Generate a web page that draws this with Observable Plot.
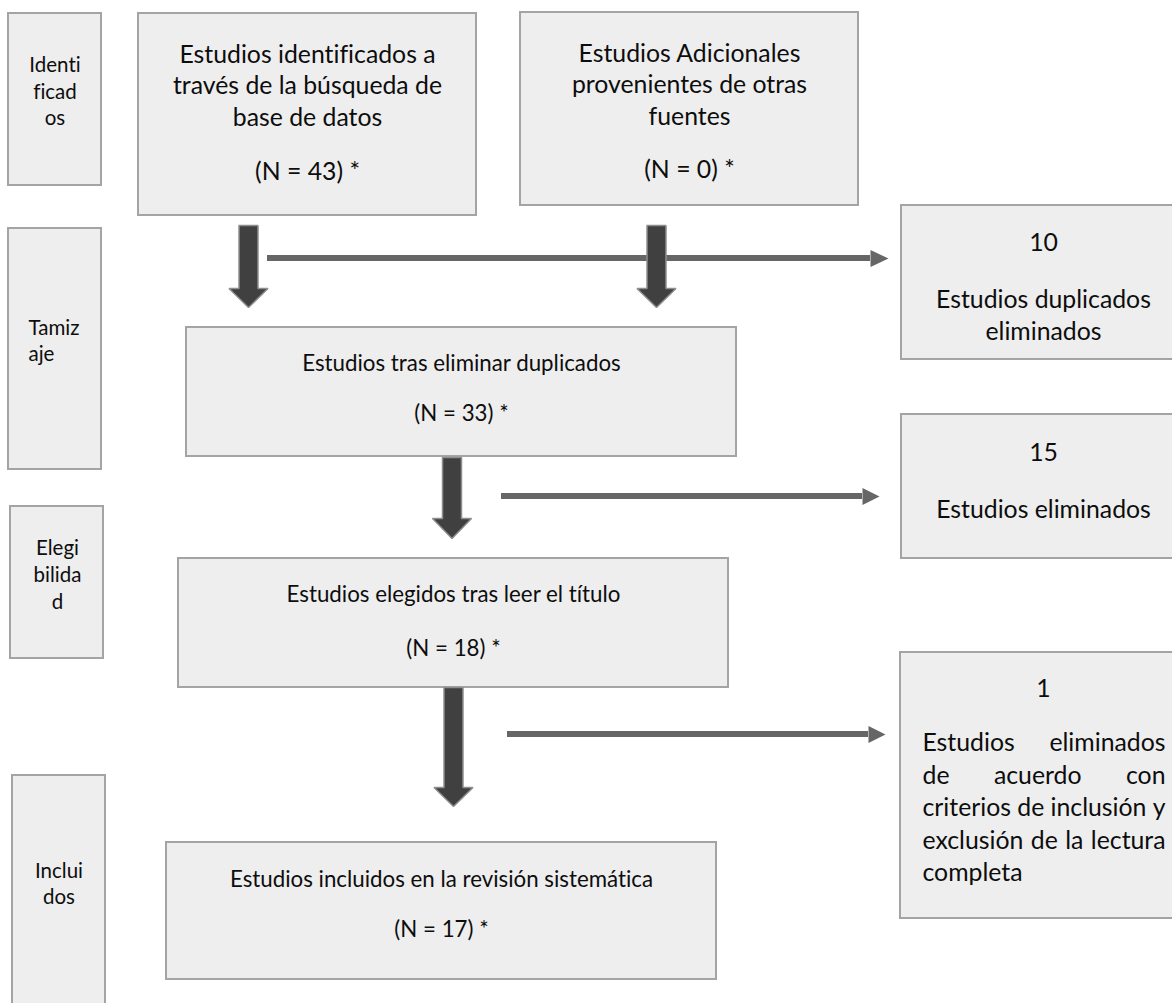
<!DOCTYPE html>
<html><head><meta charset="utf-8">
<script src="https://cdn.jsdelivr.net/npm/d3@7"></script>
<script src="https://cdn.jsdelivr.net/npm/@observablehq/plot@0.6"></script>
<style>html,body{margin:0;padding:0;background:#fff;overflow:hidden} svg text{font-variant-ligatures:none;font-feature-settings:"liga" 0}</style>
</head><body><div id="chart"></div>
<script>
// ---------- DATA ----------
const stageLabels = ["Identi\nficad\nos", "Tamiz\naje", "Elegi\nbilida\nd", "Inclui\ndos"];
const flowTitles = [
  "Estudios identificados a\ntravés de la búsqueda de\nbase de datos",
  "Estudios Adicionales\nprovenientes de otras\nfuentes",
  "Estudios tras eliminar duplicados",
  "Estudios elegidos tras leer el título",
  "Estudios incluidos en la revisión sistemática"
];
const flowCounts = [43, 0, 33, 18, 17];
const excludedCounts = [10, 15, 1];
const excludedLabels = [
  "Estudios duplicados\neliminados",
  "Estudios eliminados",
  "Estudios eliminados\nde acuerdo con\ncriterios de inclusión y\nexclusión de la lectura\ncompleta"
];

// ---------- LAYOUT (pixel space) ----------
const W = 1172, H = 1003;
const stageBoxes = [
  {x1: 8, x2: 101, y1: 13, y2: 185, tx: 54.5, ty: 89.5, anchor: "middle"},
  {x1: 8, x2: 101, y1: 228, y2: 469, tx: 28, ty: 339, anchor: "start"},
  {x1: 10, x2: 103, y1: 506, y2: 658, tx: 57, ty: 573, anchor: "middle"},
  {x1: 12, x2: 105, y1: 775, y2: 1030, tx: 58.5, ty: 882, anchor: "middle"}
];
const flowBoxes = [
  {x1: 138, x2: 476, y1: 13, y2: 215, tx: 307, ty: 83.5, cy: 172},
  {x1: 520, x2: 858, y1: 12, y2: 205, tx: 689, ty: 82.5, cy: 170},
  {x1: 186, x2: 736, y1: 327, y2: 456, tx: 461, ty: 363, cy: 413},
  {x1: 178, x2: 728, y1: 558, y2: 687, tx: 453, ty: 594, cy: 648},
  {x1: 166, x2: 716, y1: 842, y2: 979, tx: 441, ty: 879, cy: 929}
];
const excludedBoxes = [
  {x1: 901, x2: 1200, y1: 205, y2: 359, tx: 1043, cy: 243, ty: 313},
  {x1: 901, x2: 1200, y1: 414, y2: 558, tx: 1043, cy: 453, ty: 507},
  {x1: 900, x2: 1200, y1: 652, y2: 918, tx: 1043, cy: 689, left: 922, right: 1165, top: 743, step: 32.5}
];
const fatArrows = [
  {cx: 248, top: 225, head: 288, tip: 307},
  {cx: 656, top: 225, head: 288, tip: 307},
  {cx: 451.5, top: 457, head: 518, tip: 538},
  {cx: 453, top: 687, head: 787, tip: 806}
];
const thinArrows = [
  {x1: 267, x2: 870, tip: 888, y: 258},
  {x1: 501, x2: 862, tip: 879, y: 496},
  {x1: 507, x2: 868, tip: 885, y: 734}
];

const mainSize = 24.8, midSize = 22.3, sideSize = 20.5;
const fontFamily = "Lato, 'Noto Sans', sans-serif";

// ---------- derived tables ----------
const boxes = [...stageBoxes, ...flowBoxes, ...excludedBoxes];
const shaftHalf = 9.5, headHalf = 19.5;
const fatPts = fatArrows.flatMap((a, i) => [
  [a.cx - shaftHalf, a.top], [a.cx + shaftHalf, a.top], [a.cx + shaftHalf, a.head],
  [a.cx + headHalf, a.head], [a.cx, a.tip], [a.cx - headHalf, a.head],
  [a.cx - shaftHalf, a.head]
].map(([x, y]) => ({x, y, id: i})));
const thinShafts = thinArrows.map(a => ({x1: a.x1, x2: a.x2, y1: a.y - 3, y2: a.y + 3}));
const thinHeads = thinArrows.flatMap((a, i) => [
  [a.x2, a.y - 8.5], [a.tip, a.y], [a.x2, a.y + 8.5]
].map(([x, y]) => ({x, y, id: i})));

const stageText = stageBoxes.map((b, i) => ({...b, text: stageLabels[i]}));
const flowTitleText = flowBoxes.map((b, i) => ({...b, text: flowTitles[i]}));
const flowCountText = flowBoxes.map((b, i) => ({x: b.tx, y: b.cy, text: `(N = ${flowCounts[i]}) *`}));
const exclCountText = excludedBoxes.map((b, i) => ({x: b.tx, y: b.cy, text: String(excludedCounts[i])}));
const exclLabelText = excludedBoxes.slice(0, 2).map((b, i) => ({x: b.tx, y: b.ty, text: excludedLabels[i]}));

// justified paragraph for the third exclusion box
const ctx = document.createElement("canvas").getContext("2d");
ctx.font = `${mainSize}px Lato`;
const jb = excludedBoxes[2];
const jLines = excludedLabels[2].split("\n");
const justWords = jLines.flatMap((line, li) => {
  const words = line.split(" ");
  const y = jb.top + li * jb.step;
  if (li === jLines.length - 1 || words.length === 1) {
    return [{x: jb.left, y, text: line}];
  }
  const widths = words.map(w => ctx.measureText(w).width);
  const sum = d3.sum(widths);
  const gap = Math.max(4, (jb.right - jb.left - sum) / (words.length - 1));
  let x = jb.left;
  return words.map((w, k) => { const o = {x, y, text: w}; x += widths[k] + gap; return o; });
});

const textColor = "#0d0d0d";
const plot = Plot.plot({
  width: W, height: H, margin: 0,
  x: {domain: [0, W], range: [0, W], axis: null},
  y: {domain: [0, H], range: [0, H], axis: null},
  style: {fontFamily, background: "#ffffff", overflow: "hidden"},
  marks: [
    Plot.rect(boxes, {x1: "x1", x2: "x2", y1: "y1", y2: "y2", fill: "#eeeeee", stroke: "#a4a4a4", strokeWidth: 2, clip: true}),
    Plot.rect(thinShafts, {x1: "x1", x2: "x2", y1: "y1", y2: "y2", fill: "#666666"}),
    Plot.line(thinHeads, {x: "x", y: "y", z: "id", fill: "#666666", stroke: "none", curve: "linear-closed"}),
    Plot.line(fatPts, {x: "x", y: "y", z: "id", fill: "#404040", stroke: "#8e8e8e", strokeWidth: 1.5, curve: "linear-closed", strokeLinejoin: "miter"}),
    Plot.text(stageText.filter(d => d.anchor === "middle"), {x: "tx", y: "ty", text: "text", fontSize: sideSize, lineHeight: 1.3, textAnchor: "middle", lineAnchor: "middle", fill: textColor}),
    Plot.text(stageText.filter(d => d.anchor === "start"), {x: "tx", y: "ty", text: "text", fontSize: sideSize, lineHeight: 1.3, textAnchor: "start", lineAnchor: "middle", fill: textColor}),
    Plot.text(flowTitleText.slice(0, 2), {x: "tx", y: "ty", text: "text", fontSize: mainSize, lineHeight: 1.27, textAnchor: "middle", lineAnchor: "middle", fill: textColor}),
    Plot.text(flowTitleText.slice(2), {x: "tx", y: "ty", text: "text", fontSize: midSize, textAnchor: "middle", lineAnchor: "middle", fill: textColor}),
    Plot.text(flowCountText.slice(0, 2), {x: "x", y: "y", text: "text", fontSize: mainSize, textAnchor: "middle", lineAnchor: "middle", fill: textColor}),
    Plot.text(flowCountText.slice(2), {x: "x", y: "y", text: "text", fontSize: midSize, textAnchor: "middle", lineAnchor: "middle", fill: textColor}),
    Plot.text(exclCountText, {x: "x", y: "y", text: "text", fontSize: mainSize, textAnchor: "middle", lineAnchor: "middle", fill: textColor}),
    Plot.text(exclLabelText, {x: "x", y: "y", text: "text", fontSize: mainSize, lineHeight: 1.3, textAnchor: "middle", lineAnchor: "middle", fill: textColor}),
    Plot.text(justWords, {x: "x", y: "y", text: "text", fontSize: mainSize, textAnchor: "start", lineAnchor: "middle", fill: textColor})
  ]
});
plot.style.fontVariantLigatures = "none";
document.getElementById("chart").appendChild(plot);
</script>
</body></html>
